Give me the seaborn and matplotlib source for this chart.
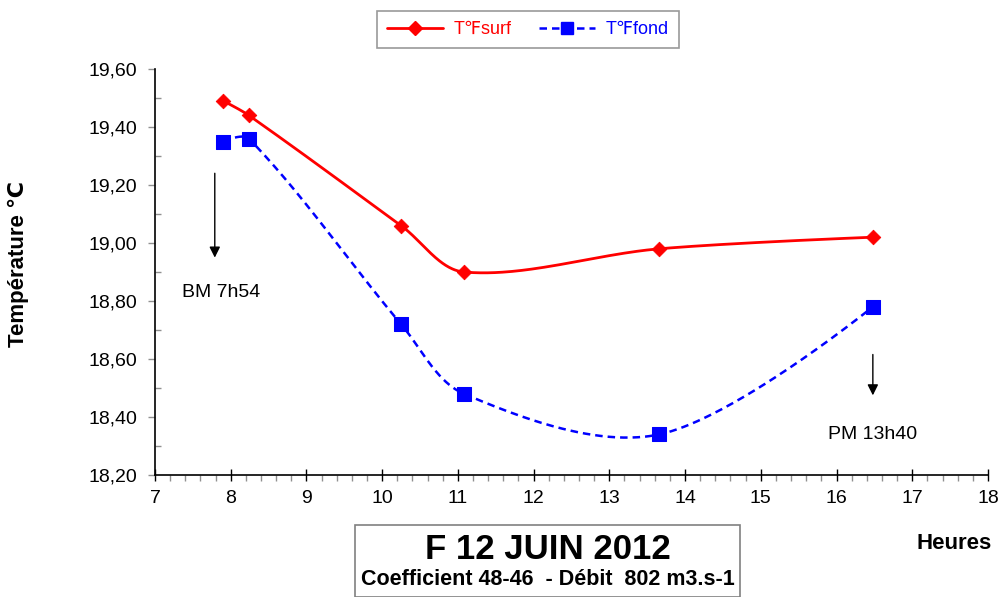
import numpy as np
import pandas as pd
import matplotlib
matplotlib.use("Agg")
import matplotlib.pyplot as plt
import seaborn as sns
from matplotlib.lines import Line2D
from matplotlib.ticker import FuncFormatter, MultipleLocator

sns.set_style("white")
plt.rcParams['font.family'] = ['Liberation Sans', 'DejaVu Sans']
plt.rcParams['text.color'] = 'black'
plt.rcParams['axes.labelcolor'] = 'black'
plt.rcParams['xtick.color'] = 'black'
plt.rcParams['ytick.color'] = 'black'

heures = [7.90, 8.24, 10.25, 11.08, 13.66, 16.48]
t_surf = [19.49, 19.44, 19.06, 18.90, 18.98, 19.02]
t_fond = [19.35, 19.36, 18.72, 18.48, 18.34, 18.78]
series_names = ["T℉surf", "T℉fond"]


def excel_smooth(ax, xs, ys, n=80):
    # smoothing computed in display (pixel) space, like a spreadsheet's smoothed line
    P = ax.transData.transform(np.column_stack([xs, ys]))
    m = len(P)
    ctrl_out, ctrl_in = [], []
    for i in range(m):
        if i == 0 or i == m - 1:
            ctrl_out.append(P[i].copy())
            ctrl_in.append(P[i].copy())
            continue
        dp = np.linalg.norm(P[i] - P[i - 1])
        dn = np.linalg.norm(P[i + 1] - P[i])
        T = P[i + 1] - P[i - 1]
        ctrl_out.append(P[i] + T * (dn / (dp + dn)) / 3.0)
        ctrl_in.append(P[i] - T * (dp / (dp + dn)) / 3.0)
    out = []
    t = np.linspace(0, 1, n)[:, None]
    for i in range(m - 1):
        p1, c1, c2, p2 = P[i], ctrl_out[i], ctrl_in[i + 1], P[i + 1]
        seg = ((1 - t) ** 3) * p1 + 3 * ((1 - t) ** 2) * t * c1 + 3 * (1 - t) * t ** 2 * c2 + t ** 3 * p2
        out.append(seg if i == 0 else seg[1:])
    arr = ax.transData.inverted().transform(np.vstack(out))
    return arr[:, 0], arr[:, 1]


fig = plt.figure(figsize=(10.03, 5.97), dpi=100)
ax = fig.add_axes([0.1545, 0.2044, 0.8305, 0.68])
ax.set_xlim(7, 18)
ax.set_ylim(18.20, 19.60)

sx, sy = excel_smooth(ax, heures, t_surf)
fx, fy = excel_smooth(ax, heures, t_fond)

ax.plot(sx, sy, color="#FF0000", lw=2.0, zorder=2)
ax.plot(fx, fy, color="#0000FF", lw=1.8, ls=(0, (3, 2)), zorder=2)

df = pd.DataFrame({"Heures": heures, "surf": t_surf, "fond": t_fond})
sns.scatterplot(data=df, x="Heures", y="surf", ax=ax, marker="D", s=55,
                color="#FF0000", edgecolor="#FF0000", zorder=3, legend=False)
sns.scatterplot(data=df, x="Heures", y="fond", ax=ax, marker="s", s=90,
                color="#0000FF", edgecolor="#0000FF", zorder=3, legend=False)

ax.set_xlim(7, 18)
ax.set_ylim(18.20, 19.60)
ax.xaxis.set_major_locator(MultipleLocator(1))
ax.xaxis.set_minor_locator(MultipleLocator(0.2))
ax.yaxis.set_major_locator(MultipleLocator(0.2))
ax.yaxis.set_minor_locator(MultipleLocator(0.1))
ax.yaxis.set_major_formatter(FuncFormatter(lambda v, p: f"{v:.2f}".replace(".", ",")))
ax.tick_params(axis="x", which="major", direction="inout", length=9, width=1,
               color="black", labelsize=14, bottom=True, pad=6)
ax.tick_params(axis="x", which="minor", direction="out", length=4, width=1,
               color="#909090", bottom=True)
ax.tick_params(axis="y", which="major", direction="out", length=5, width=1,
               color="#909090", labelsize=14, left=True, pad=8)
ax.tick_params(axis="y", which="minor", direction="in", length=4, width=1,
               color="#909090", left=True)
for s in ["top", "right"]:
    ax.spines[s].set_visible(False)
for s in ["left", "bottom"]:
    ax.spines[s].set_color("black")
    ax.spines[s].set_linewidth(1.2)
ax.set_xlabel("")
ax.set_ylabel("")
fig.text(18 / 1003, 1 - 264 / 597, "Température ℃", rotation=90, ha="center", va="center",
         fontsize=16, fontweight="bold")

# annotations
ax.annotate("", xy=(7.79, 18.94), xytext=(7.79, 19.25),
            arrowprops=dict(arrowstyle="-|>", color="black", lw=1, mutation_scale=16))
ax.text(7.88, 18.83, "BM 7h54", ha="center", va="center", fontsize=14)
ax.annotate("", xy=(16.48, 18.465), xytext=(16.48, 18.625),
            arrowprops=dict(arrowstyle="-|>", color="black", lw=1, mutation_scale=16))
ax.text(16.48, 18.338, "PM 13h40", ha="center", va="center", fontsize=14)

fig.text(0.989, 0.09, "Heures", ha="right", va="center", fontsize=16, fontweight="bold")

# legend
handles = [
    Line2D([0], [0], color="#FF0000", lw=2.0, marker="D", markersize=7),
    Line2D([0], [0], color="#0000FF", lw=1.8, ls=(0, (3, 2)), marker="s", markersize=9),
]
leg = fig.legend(handles, series_names, loc="center", bbox_to_anchor=(0.5265, 0.95),
                 ncol=2, frameon=True, fancybox=False, fontsize=13,
                 handlelength=3.1, columnspacing=1.5, borderpad=0.55, handletextpad=0.6)
leg.get_frame().set_edgecolor("#808080")
leg.get_frame().set_linewidth(1.2)
for t, c in zip(leg.get_texts(), ["#FF0000", "#0000FF"]):
    t.set_color(c)

# title box
fig.patches.append(plt.Rectangle((0.354, 0.0), 0.384, 0.12, transform=fig.transFigure,
                                 fill=False, edgecolor="#808080", lw=1.2))
fig.text(0.546, 0.08, "F 12 JUIN 2012", ha="center", va="center", fontsize=25, fontweight="bold")
fig.text(0.546, 0.03, "Coefficient 48-46  - Débit  802 m3.s-1", ha="center", va="center",
         fontsize=15.5, fontweight="bold")

fig.savefig("out.png", dpi=100)
